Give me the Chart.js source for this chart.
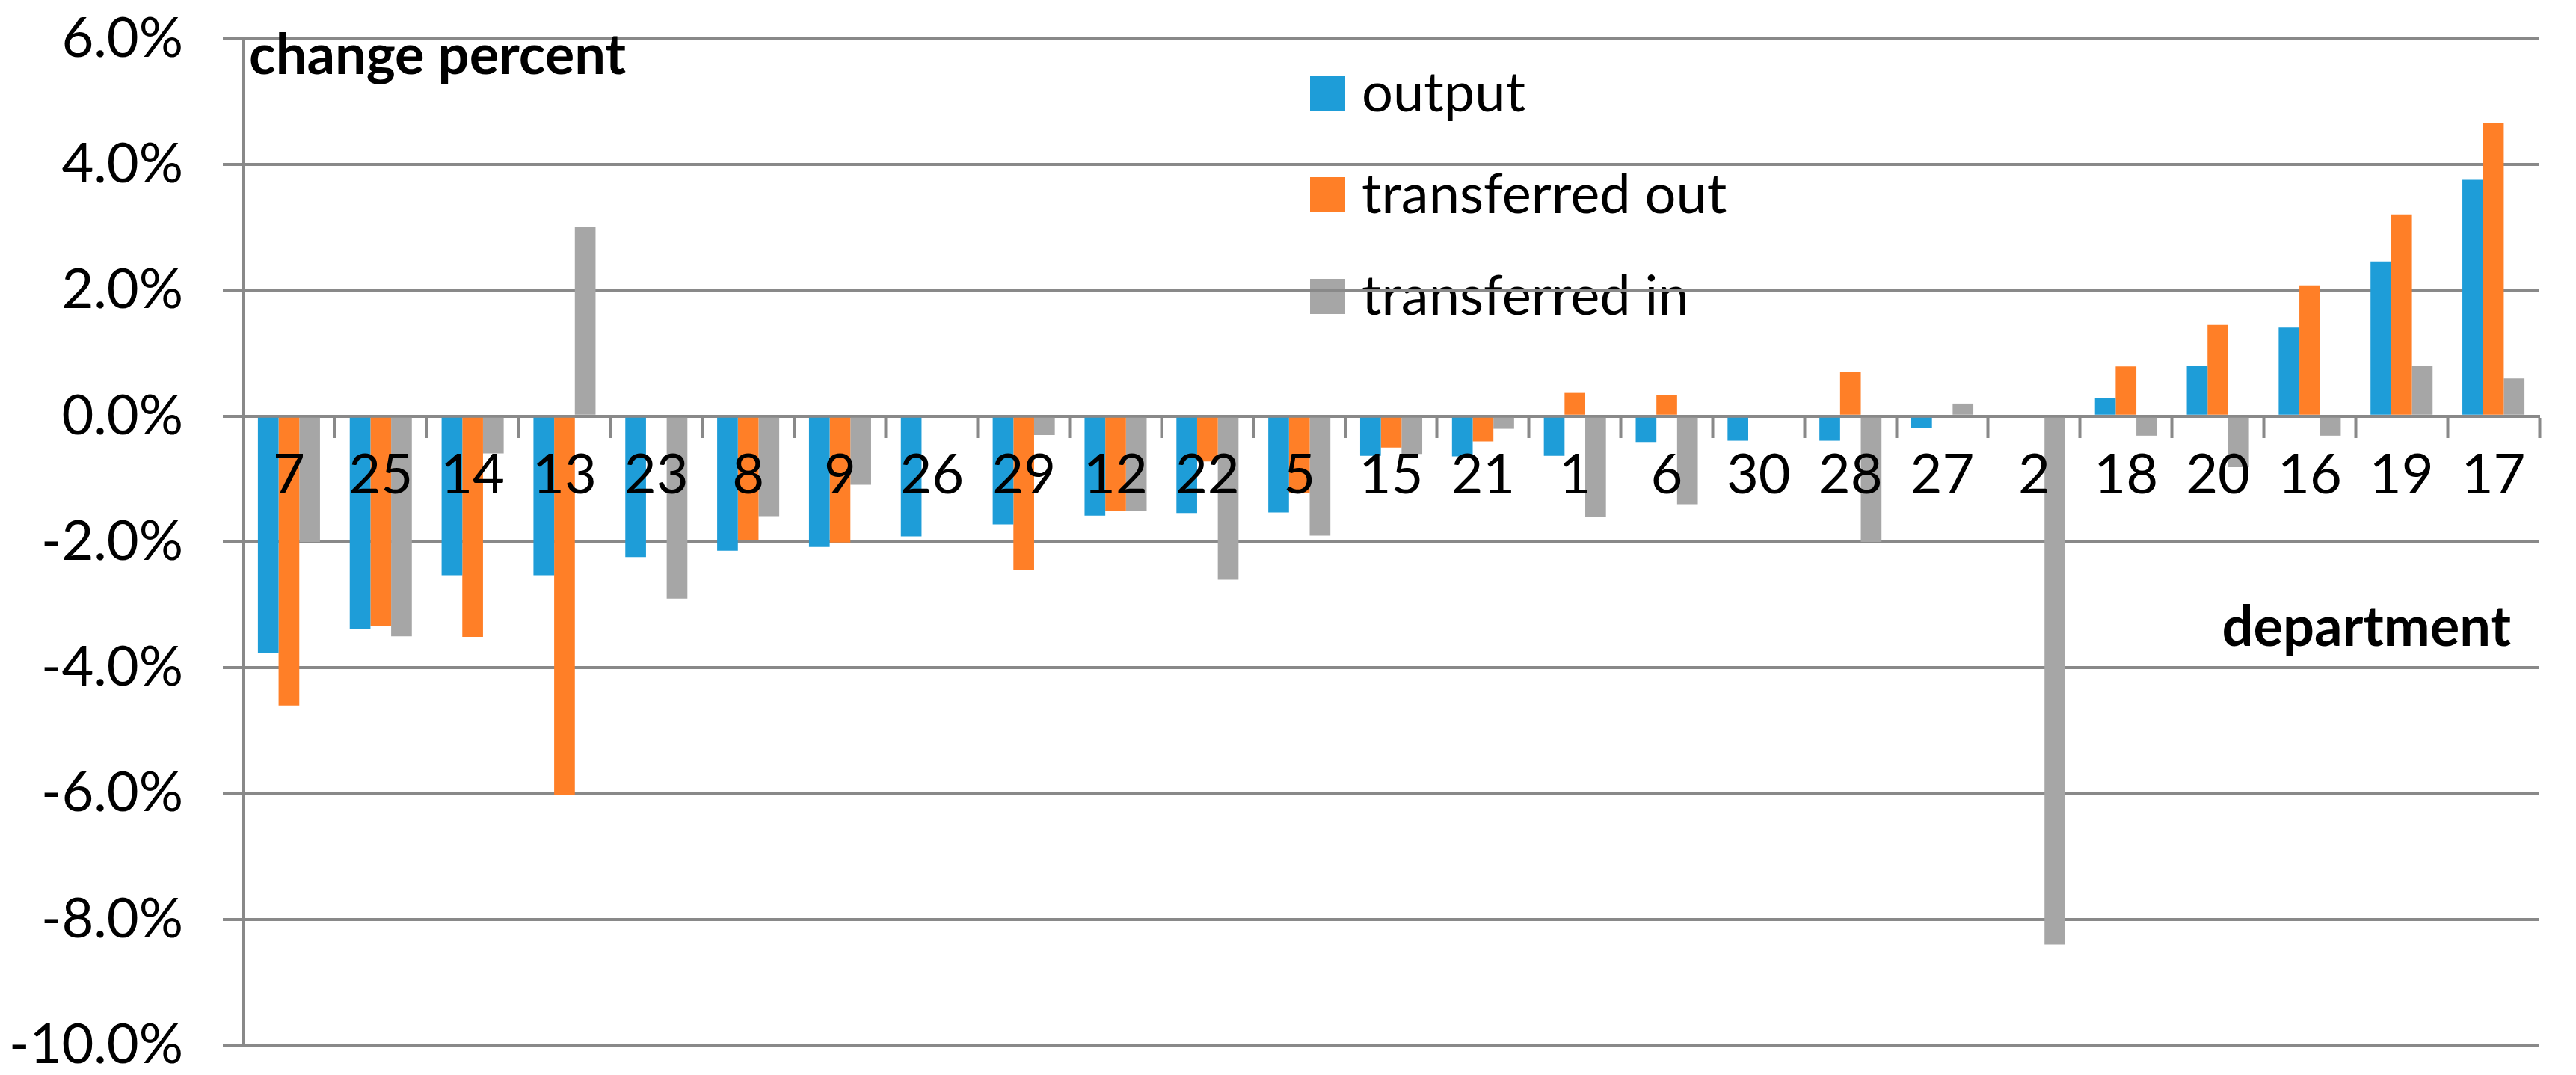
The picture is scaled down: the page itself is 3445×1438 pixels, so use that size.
<!DOCTYPE html>
<html>
<head>
<meta charset="utf-8">
<title>change percent by department</title>
<script src="https://cdn.jsdelivr.net/npm/chart.js@4.4.1/dist/chart.umd.min.js"></script>
<style>
  html, body { margin: 0; padding: 0; background: #fff; }
  #wrap { width: 3445px; height: 1438px; position: relative; }
</style>
</head>
<body>
<div id="wrap"><canvas id="chart"></canvas></div>
<script>
const departments = ["7", "25", "14", "13", "23", "8", "9", "26", "29", "12", "22", "5", "15", "21", "1", "6", "30", "28", "27", "2", "18", "20", "16", "19", "17"];
const output = [-3.77, -3.39, -2.53, -2.53, -2.24, -2.14, -2.08, -1.91, -1.72, -1.58, -1.54, -1.53, -0.63, -0.64, -0.63, -0.41, -0.39, -0.39, -0.19, 0, 0.29, 0.80, 1.41, 2.46, 3.76];
const transferredOut = [-4.60, -3.33, -3.51, -6.03, 0, -1.97, -2.01, 0, -2.45, -1.51, -0.72, -1.22, -0.50, -0.40, 0.37, 0.34, 0, 0.71, 0, 0, 0.79, 1.45, 2.08, 3.21, 4.67];
const transferredIn = [-2.00, -3.50, -0.59, 3.01, -2.90, -1.59, -1.09, 0, -0.30, -1.50, -2.60, -1.90, -0.60, -0.20, -1.60, -1.40, 0, -2.00, 0.20, -8.40, -0.31, -0.81, -0.31, 0.80, 0.60];
const seriesNames = ["output", "transferred out", "transferred in"];
const yMin = -10;
const yMax = 6;
const yStep = 2;
const yTitle = "change percent";
const xTitle = "department";

const BLUE = "#1E9DD8";
const ORANGE = "#FF7F27";
const GREY = "#A6A6A6";
const AXIS = "#898989";
const FONT = "Lato, 'Open Sans', sans-serif";

Chart.defaults.font.family = FONT;
Chart.defaults.font.size = 74;
Chart.defaults.color = "#000";

// legend and axis titles sit inside the plot, so draw them by hand
const overlayText = {
  id: "overlayText",
  beforeDraw(chart) {
    const ctx = chart.ctx;
    ctx.save();
    ctx.font = `74px ${FONT}`;
    ctx.textBaseline = "alphabetic";
    ctx.textAlign = "left";
    chart.data.datasets.forEach((ds, i) => {
      const top = 101 + i * 136;
      ctx.fillStyle = ds.backgroundColor;
      ctx.fillRect(1752, top, 47, 47);
      ctx.fillStyle = "#000";
      ctx.fillText(ds.label, 1821, top + 48);
    });
    ctx.restore();
  },
  afterDraw(chart) {
    const ctx = chart.ctx;
    const area = chart.chartArea;
    ctx.save();
    ctx.font = `bold 74px ${FONT}`;
    ctx.fillStyle = "#000";
    ctx.textBaseline = "alphabetic";
    ctx.textAlign = "left";
    ctx.fillText(yTitle, area.left + 8, 99);
    ctx.textAlign = "right";
    ctx.fillText(xTitle, area.right - 38, 864);
    ctx.restore();
  },
};

new Chart(document.getElementById("chart"), {
  type: "bar",
  data: {
    labels: departments,
    datasets: [
      { label: seriesNames[0], data: output, backgroundColor: BLUE },
      { label: seriesNames[1], data: transferredOut, backgroundColor: ORANGE },
      { label: seriesNames[2], data: transferredIn, backgroundColor: GREY },
    ],
  },
  options: {
    responsive: true,
    maintainAspectRatio: false,
    animation: false,
    layout: { padding: { top: 52, bottom: 40, right: 49, left: 0 } },
    datasets: {
      bar: { categoryPercentage: 0.676, barPercentage: 1.0, borderWidth: 0 },
    },
    scales: {
      x: {
        position: { y: 0 },
        grid: {
          offset: true,
          drawOnChartArea: false,
          drawTicks: true,
          tickLength: 27,
          tickWidth: 4,
          tickColor: AXIS,
        },
        border: { display: true, color: AXIS, width: 4 },
        // department numbers are painted over the bars
        ticks: { z: 1, padding: 8, font: { size: 74 }, maxRotation: 0, autoSkip: false },
      },
      y: {
        min: yMin,
        max: yMax,
        grid: { color: AXIS, lineWidth: 4, tickLength: 27, tickColor: AXIS },
        border: { display: true, color: AXIS, width: 4 },
        ticks: {
          stepSize: yStep,
          padding: 53,
          font: { size: 74, lineHeight: 1.0 },
          callback: (v) => `${Number(v).toFixed(1)}%`,
        },
        afterFit: (scale) => {
          scale.width = 325;
          scale.paddingTop = 0;
          scale.paddingBottom = 0;
        },
      },
    },
    plugins: {
      legend: { display: false },
      tooltip: { enabled: false },
    },
  },
  plugins: [overlayText],
});
</script>
</body>
</html>
